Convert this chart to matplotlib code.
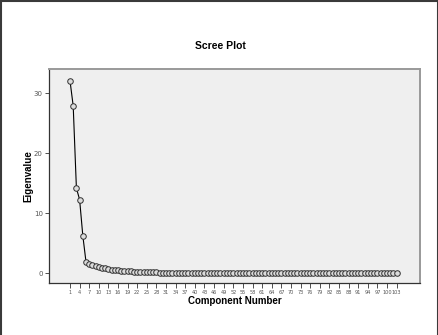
import matplotlib
matplotlib.use("Agg")
import matplotlib.pyplot as plt
from matplotlib.lines import Line2D

# Eigenvalues (component 1..103)
top_eigen = [32.1, 27.9, 14.2, 12.3, 6.3]
tail_eigen = [1.90, 1.60, 1.40, 1.22, 1.06, 0.92, 0.82, 0.73, 0.65, 0.58,
              0.52, 0.47, 0.42, 0.38, 0.34, 0.31, 0.28, 0.25, 0.23, 0.21,
              0.19, 0.17, 0.16, 0.15, 0.14, 0.13, 0.12, 0.11, 0.10, 0.10,
              0.09, 0.09, 0.08, 0.08, 0.07, 0.07, 0.07, 0.06, 0.06, 0.06,
              0.05, 0.05, 0.05, 0.05, 0.05, 0.05, 0.05, 0.05, 0.05, 0.05,
              0.04, 0.04, 0.04, 0.04, 0.04, 0.04, 0.04, 0.04, 0.04, 0.04,
              0.03, 0.03, 0.03, 0.03, 0.03, 0.03, 0.03, 0.03, 0.03, 0.03,
              0.03, 0.03, 0.02, 0.02, 0.02, 0.02, 0.02, 0.02, 0.02, 0.02,
              0.02, 0.02, 0.02, 0.02, 0.02, 0.02, 0.02, 0.02, 0.02, 0.02,
              0.01, 0.01, 0.01, 0.01, 0.01, 0.01, 0.01, 0.01]
eigen = top_eigen + tail_eigen
components = list(range(1, len(eigen) + 1))
xtick_vals = list(range(1, 104, 3))
ytick_vals = [0, 10, 20, 30]

fig = plt.figure(figsize=(4.39, 3.35), dpi=100)
ax = fig.add_axes([0.1116, 0.1552, 0.8451, 0.6388])
ax.set_facecolor('#efefef')

ax.plot(components, eigen, color='black', linewidth=0.8, marker='o',
        markersize=4.0, markerfacecolor='#dcdcdc', markeredgecolor='#303030',
        markeredgewidth=0.7)

ax.set_xlim(-5.56, 110.3)
ax.set_ylim(-1.6, 34.05)
ax.set_xticks(xtick_vals)
ax.set_xticklabels([str(v) for v in xtick_vals], fontsize=3.6, color='#555555')
ax.set_yticks(ytick_vals)
ax.set_yticklabels([str(v) for v in ytick_vals], fontsize=5, color='#555555')
ax.tick_params(axis='x', length=3.5, width=0.6, color='#333333', pad=1.5)
ax.tick_params(axis='y', length=3, width=0.6, color='#333333', pad=1.5)

for side in ['top', 'right']:
    ax.spines[side].set_color('#999999')
    ax.spines[side].set_linewidth(1.4)
for side in ['left', 'bottom']:
    ax.spines[side].set_color('#333333')
    ax.spines[side].set_linewidth(0.9)

ax.set_xlabel('Component Number', fontsize=7, fontweight='bold', labelpad=1,
              family='Liberation Sans')
ax.set_ylabel('Eigenvalue', fontsize=7, fontweight='bold', labelpad=0,
              family='Liberation Sans')
fig.text(0.503, 0.862, 'Scree Plot', ha='center', va='center', fontsize=7.5,
         fontweight='bold', family='Liberation Sans')

# outer frame (left, top, right)
frame_kw = dict(color='#3a3a3a', linewidth=1.5, transform=fig.transFigure)
fig.add_artist(Line2D([0.003, 0.003], [0, 0.997], **frame_kw))
fig.add_artist(Line2D([0.003, 0.997], [0.997, 0.997], **frame_kw))
fig.add_artist(Line2D([0.997, 0.997], [0, 0.997], **frame_kw))

fig.savefig('out.png', dpi=100)
